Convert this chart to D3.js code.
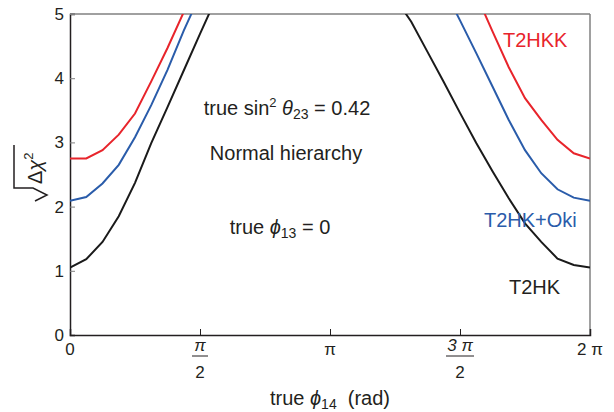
<!DOCTYPE html>
<html>
<head>
<meta charset="utf-8">
<script src="https://cdn.jsdelivr.net/npm/d3@7"></script>
<style>
  body { margin: 0; background: #fff; }
  svg text { font-family: "Liberation Sans", Arial, sans-serif; fill: #231f20; white-space: pre; }
</style>
</head>
<body>
<script>
// phi14 sample grid (in units of pi), left and right branches
var phiGridLeft = [0, 0.0625, 0.125, 0.1875, 0.25, 0.3125, 0.375, 0.4375, 0.5, 0.5625];
var phiGridRight = [1.25, 1.3125, 1.375, 1.4375, 1.5, 1.5625, 1.625, 1.6875, 1.75, 1.8125, 1.875, 1.9375, 2];

// sqrt(delta chi^2)
var t2hkLeft = [1.05, 1.18, 1.45, 1.85, 2.37, 2.99, 3.55, 4.12, 4.69, 5.25];
var t2hkRight = [5.25, 4.88, 4.41, 3.94, 3.46, 2.99, 2.55, 2.13, 1.74, 1.45, 1.19, 1.09, 1.05];
var okiLeft = [2.09, 2.15, 2.36, 2.65, 3.08, 3.58, 4.13, 4.74, 5.3];
var okiRight = [5.4, 4.9, 4.39, 3.87, 3.35, 2.88, 2.52, 2.27, 2.14, 2.09];
var t2hkkLeft = [2.75, 2.75, 2.88, 3.12, 3.45, 3.95, 4.47, 5.03];
var t2hkkRight = [5.3, 4.73, 4.17, 3.69, 3.35, 3.04, 2.83, 2.75];

var xTicks = [0, 0.5, 1, 1.5, 2];
var yTicks = [0, 1, 2, 3, 4, 5];

var w = 614, h = 412;
var pLeft = 70, pRight = 590, pTop = 14, pBottom = 335;

var svg = d3.select("body").append("svg")
  .attr("width", w)
  .attr("height", h);

var x = d3.scaleLinear().domain([0, 2 * Math.PI]).range([pLeft, pRight]);
var y = d3.scaleLinear().domain([0, 5]).range([pBottom, pTop]);

svg.append("clipPath").attr("id", "clip")
  .append("rect")
  .attr("x", pLeft).attr("y", pTop)
  .attr("width", pRight - pLeft).attr("height", pBottom - pTop);

// frame: top and right in grey
svg.append("line").attr("x1", pLeft).attr("x2", pRight).attr("y1", pTop).attr("y2", pTop)
  .attr("stroke", "#808080").attr("stroke-width", 1.5);
svg.append("line").attr("x1", pRight).attr("x2", pRight).attr("y1", pTop).attr("y2", pBottom)
  .attr("stroke", "#808080").attr("stroke-width", 1.5);

// y axis
var yAxis = svg.append("g")
  .attr("transform", "translate(" + pLeft + ",0)")
  .call(d3.axisLeft(y).tickValues(yTicks).tickSize(-5).tickPadding(6).tickFormat(d3.format("d")));
yAxis.select(".domain").attr("stroke", "#231f20").attr("stroke-width", 1.5);
yAxis.selectAll(".tick line").attr("stroke", "#808080");
yAxis.selectAll(".tick text").attr("font-size", 17).attr("font-family", null);

// x axis
var xAxis = svg.append("g")
  .attr("transform", "translate(0," + pBottom + ")")
  .call(d3.axisBottom(x).tickValues(xTicks.map(function(d) { return d * Math.PI; }))
    .tickSize(-6).tickFormat(""));
xAxis.select(".domain").attr("stroke", "#231f20").attr("stroke-width", 1.5);
xAxis.selectAll(".tick line").attr("stroke", "#231f20");

// x tick labels (fractions of pi)
var xLab = svg.append("g").attr("font-size", 17);
function piLabel(v, num) {
  var cx = x(v * Math.PI);
  if (v === 0.5 || v === 1.5) {
    xLab.append("text").attr("x", cx).attr("y", 351).attr("text-anchor", "middle")
      .style("font-style", "italic").text(num);
    xLab.append("line").attr("x1", cx - 8 - (v === 1.5 ? 6 : 0)).attr("x2", cx + 8 + (v === 1.5 ? 6 : 0))
      .attr("y1", 356).attr("y2", 356).attr("stroke", "#231f20").attr("stroke-width", 1);
    xLab.append("text").attr("x", cx).attr("y", 378).attr("text-anchor", "middle").text("2");
  } else {
    xLab.append("text").attr("x", cx).attr("y", 355).attr("text-anchor", "middle").text(num);
  }
}
piLabel(0, "0");
piLabel(0.5, "\u03c0");
piLabel(1, "\u03c0");
piLabel(1.5, "3 \u03c0");
piLabel(2, "2 \u03c0");

// curves
var line = d3.line()
  .x(function(d) { return x(d[0] * Math.PI); })
  .y(function(d) { return y(d[1]); });

function pairs(grid, vals, fromEnd) {
  var g = fromEnd ? grid.slice(grid.length - vals.length) : grid.slice(0, vals.length);
  return g.map(function(p, i) { return [p, vals[i]]; });
}

var series = [
  { color: "#1a1a1a", l: t2hkLeft, r: t2hkRight },
  { color: "#2a5caa", l: okiLeft, r: okiRight },
  { color: "#e8242b", l: t2hkkLeft, r: t2hkkRight }
];

var curves = svg.append("g").attr("clip-path", "url(#clip)");
series.forEach(function(s) {
  curves.append("path").attr("d", line(pairs(phiGridLeft, s.l, false)))
    .attr("fill", "none").attr("stroke", s.color).attr("stroke-width", 2);
  curves.append("path").attr("d", line(pairs(phiGridRight, s.r, true)))
    .attr("fill", "none").attr("stroke", s.color).attr("stroke-width", 2);
});

// annotations
var t1 = svg.append("text").attr("x", 287).attr("y", 115).attr("text-anchor", "middle").attr("font-size", 20);
t1.append("tspan").text("true sin");
t1.append("tspan").attr("font-size", 13).attr("dy", -8).text("2");
t1.append("tspan").attr("dy", 8).text(" ");
t1.append("tspan").style("font-style", "italic").text("\u03b8");
t1.append("tspan").attr("font-size", 14).attr("dy", 4).text("23");
t1.append("tspan").attr("dy", -4).text(" = 0.42");

svg.append("text").attr("x", 286).attr("y", 160).attr("text-anchor", "middle")
  .attr("font-size", 20).text("Normal hierarchy");

var t3 = svg.append("text").attr("x", 280).attr("y", 234).attr("text-anchor", "middle").attr("font-size", 20);
t3.append("tspan").text("true ");
t3.append("tspan").style("font-style", "italic").text("\u03d5");
t3.append("tspan").attr("font-size", 14).attr("dy", 4).text("13");
t3.append("tspan").attr("dy", -4).text(" = 0");

svg.append("text").attr("x", 503).attr("y", 47).attr("font-size", 20)
  .style("fill", "#e8242b").text("T2HKK");
svg.append("text").attr("x", 484).attr("y", 227).attr("font-size", 20)
  .style("fill", "#2a5caa").text("T2HK+Oki");
svg.append("text").attr("x", 509).attr("y", 294).attr("font-size", 20)
  .text("T2HK");

// x title
var xt = svg.append("text").attr("x", 330).attr("y", 405).attr("text-anchor", "middle").attr("font-size", 20);
xt.append("tspan").text("true ");
xt.append("tspan").style("font-style", "italic").text("\u03d5");
xt.append("tspan").attr("font-size", 14).attr("dy", 4).text("14");
xt.append("tspan").attr("dy", -4).text("  (rad)");

// y title: sqrt(delta chi^2), rotated
var yt = svg.append("g").attr("transform", "translate(42,186) rotate(-90)");
var ytext = yt.append("text").attr("x", 2).attr("y", 0).attr("font-size", 20);
ytext.append("tspan").text("\u0394");
ytext.append("tspan").style("font-style", "italic").text("\u03c7");
ytext.append("tspan").attr("font-size", 13).attr("dy", -9).text("2");
yt.append("path")
  .attr("d", "M-15,-7 L-9,5 L-2,-9 L-2,-28 L41,-28")
  .attr("fill", "none").attr("stroke", "#231f20").attr("stroke-width", 1.5);
</script>
</body>
</html>
